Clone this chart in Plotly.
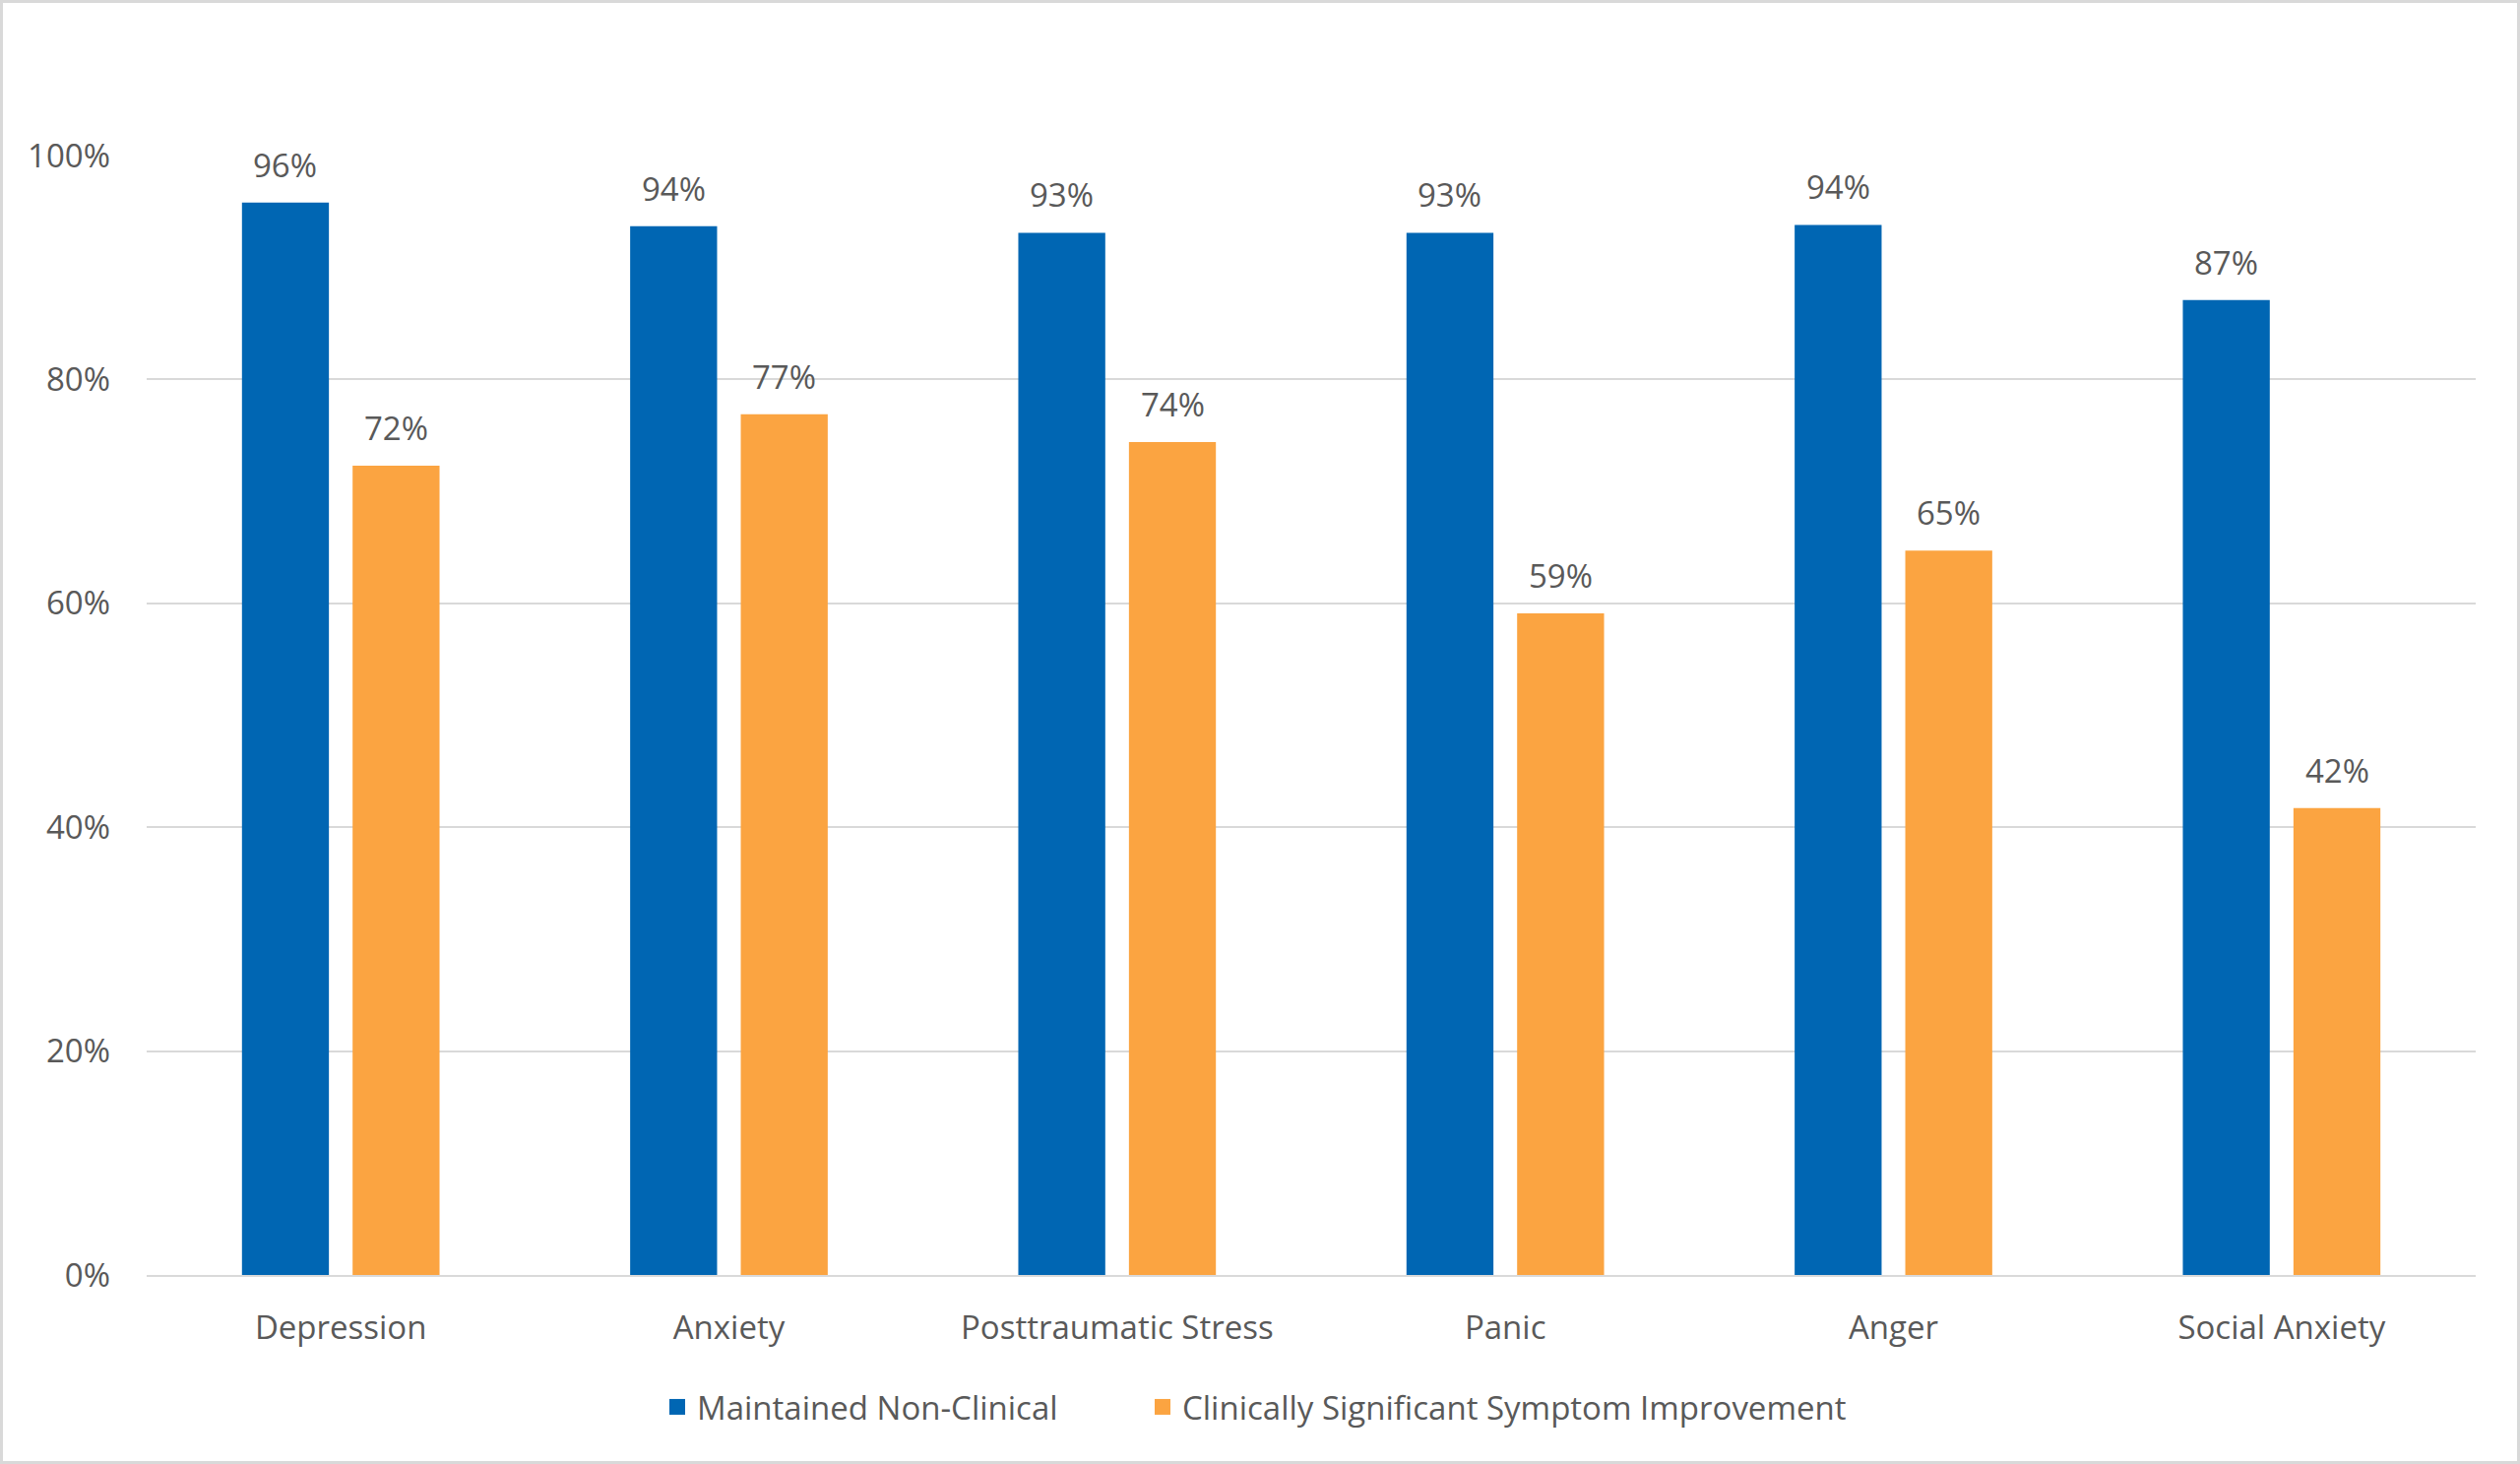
import plotly.graph_objects as go

categories = ["Depression", "Anxiety", "Posttraumatic Stress", "Panic", "Anger", "Social Anxiety"]
maintained = [0.958, 0.937, 0.931, 0.931, 0.938, 0.871]
improvement = [0.723, 0.769, 0.744, 0.591, 0.647, 0.417]
series_names = ["Maintained Non-Clinical", "Clinically Significant Symptom Improvement"]
y_ticks = [0, 0.2, 0.4, 0.6, 0.8, 1.0]
y_tick_labels = ["0%", "20%", "40%", "60%", "80%", "100%"]

BLUE = "#0066B3"
ORANGE = "#FBA441"
TEXT = "#595959"
GRID = "#D9D9D9"
FONT = "Open Sans"
FS = 33

W, H = 2560, 1487
L, R, T, B = 149, 45, 158, 192

x = list(range(len(categories)))
colors = [BLUE, ORANGE]
legends = ["legend", "legend2"]

fig = go.Figure()
for vals, name, col in zip((maintained, improvement), series_names, colors):
    fig.add_trace(go.Bar(x=x, y=vals, name=name, showlegend=False,
                         marker=dict(color=col, line=dict(width=0))))
# legend entries (square swatches)
for name, col, lg in zip(series_names, colors, legends):
    fig.add_trace(go.Scatter(x=[None], y=[None], mode="markers", name=name, legend=lg,
                             marker=dict(symbol="square", size=17, color=col)))

bargap = 0.43
bargroupgap = 0.214
slot = (1 - bargap) / 2
annotations = []
for vals, sign in ((maintained, -1), (improvement, 1)):
    for i, v in enumerate(vals):
        annotations.append(dict(
            x=i + sign * slot / 2, y=v, xref="x", yref="y",
            text=f"{round(v * 100):.0f}%", showarrow=False,
            yanchor="bottom", yshift=14,
            font=dict(family=FONT, size=FS, color=TEXT),
        ))

pw = W - L - R
ph = H - T - B
shapes = [dict(
    type="rect", xref="paper", yref="paper",
    x0=(1.5 - L) / pw, x1=(W - 1.5 - L) / pw,
    y0=-(B - 1.5) / ph, y1=1 + (T - 1.5) / ph,
    line=dict(color=GRID, width=3), fillcolor="rgba(0,0,0,0)", layer="below",
)]

legend_y = -(1429 - 1295) / ph
legend_common = dict(
    orientation="h", xanchor="left", y=legend_y, yanchor="middle",
    font=dict(family=FONT, size=FS, color=TEXT), itemwidth=30,
    bgcolor="rgba(0,0,0,0)",
)

fig.update_layout(
    width=W, height=H,
    margin=dict(l=L, r=R, t=T, b=B),
    paper_bgcolor="white", plot_bgcolor="white",
    barmode="group", bargap=bargap, bargroupgap=bargroupgap,
    font=dict(family=FONT, size=FS, color=TEXT),
    xaxis=dict(
        tickmode="array", tickvals=x, ticktext=categories,
        range=[-0.5, len(categories) - 0.5],
        showgrid=False, zeroline=False, showline=True, linecolor=GRID, linewidth=2,
        ticks="", ticklabelstandoff=23,
        tickfont=dict(family=FONT, size=FS, color=TEXT),
    ),
    yaxis=dict(
        range=[0, 1.0], tickmode="array", tickvals=y_ticks, ticktext=y_tick_labels,
        showgrid=True, gridcolor=GRID, gridwidth=2, zeroline=False, showline=False,
        ticks="", ticklabelstandoff=36,
        tickfont=dict(family=FONT, size=FS, color=TEXT),
    ),
    legend=dict(x=(668 - L) / pw, **legend_common),
    legend2=dict(x=(1161 - L) / pw, **legend_common),
    annotations=annotations,
    shapes=shapes,
    showlegend=True,
)
fig.update_traces(cliponaxis=False, selector=dict(type="bar"))

fig.write_html(
    "out.html",
    config={"displayModeBar": False},
    post_script="document.body.style.margin='0';document.body.style.padding='0';document.documentElement.style.overflow='hidden';",
)
